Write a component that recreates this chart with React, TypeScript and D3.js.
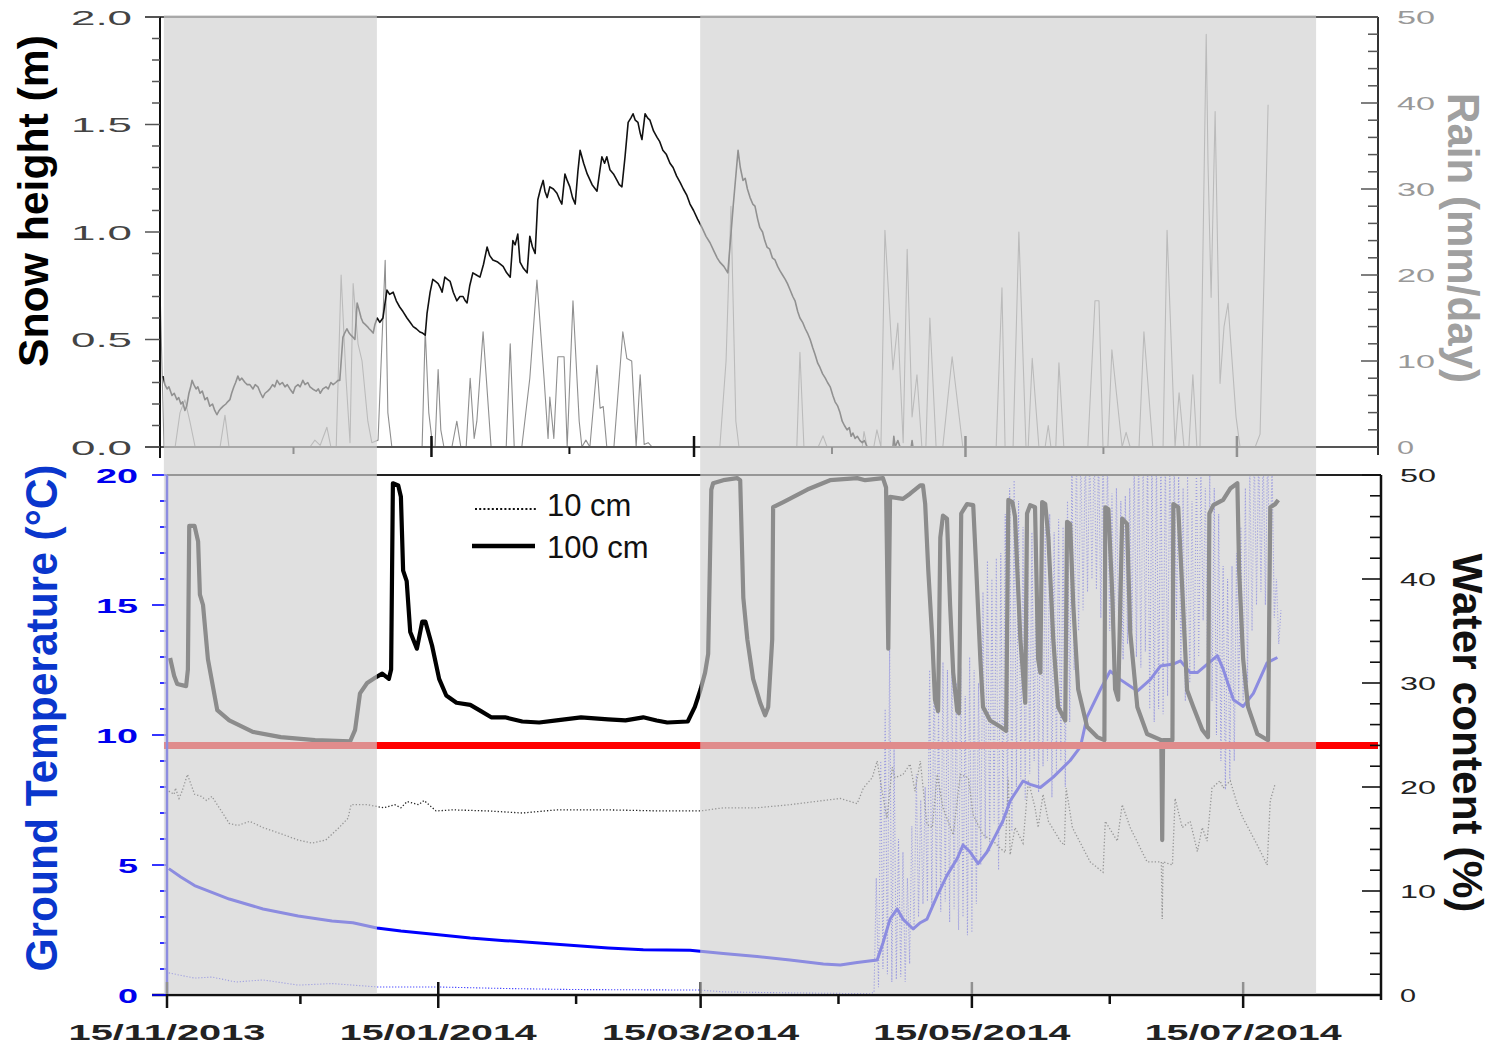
import React from "react";
import * as d3 from "d3";

type Pt = [number, number];

// Day 0 = 15/11/2013; every series is [days since start, value]
const START = new Date(2013, 10, 15);
const DAY_MS = 86400000;
const toDate = (d: number) => new Date(START.getTime() + d * DAY_MS);

// ---------- upper panel ----------
const snowHeight: Pt[] = [
  [0.7, 0.33], [1.1, 0.29], [1.6, 0.27], [2.0, 0.28], [2.7, 0.24], [3.2, 0.25], [3.8, 0.22], [4.2, 0.23],
  [4.7, 0.2], [5.1, 0.21], [5.6, 0.17], [6.0, 0.19], [6.5, 0.25], [6.9, 0.28], [7.2, 0.31], [7.6, 0.29],
  [8.1, 0.27], [8.5, 0.28], [9.0, 0.25], [9.5, 0.26], [10.1, 0.22], [10.6, 0.23], [11.2, 0.19], [11.8, 0.2],
  [12.3, 0.17], [12.8, 0.15], [13.3, 0.17], [13.7, 0.18], [14.2, 0.19], [14.8, 0.2], [15.2, 0.21], [15.7, 0.22],
  [16.1, 0.25], [16.6, 0.28], [17.0, 0.3], [17.5, 0.33], [17.9, 0.31], [18.4, 0.32], [19.1, 0.3], [19.6, 0.29],
  [20.2, 0.29], [20.9, 0.27], [21.4, 0.29], [22.0, 0.28], [22.6, 0.25], [23.1, 0.23], [23.6, 0.25], [24.2, 0.26],
  [24.7, 0.27], [25.3, 0.29], [25.8, 0.28], [26.3, 0.31], [26.9, 0.29], [27.5, 0.3], [28.1, 0.28], [28.6, 0.29],
  [29.2, 0.27], [29.9, 0.25], [30.4, 0.28], [31.0, 0.29], [31.5, 0.28], [32.1, 0.31], [32.6, 0.29], [33.2, 0.3],
  [33.7, 0.28], [34.3, 0.27], [35.1, 0.26], [35.6, 0.27], [36.0, 0.25], [36.6, 0.27], [37.3, 0.28], [37.8, 0.27],
  [38.4, 0.3], [38.9, 0.29], [39.5, 0.3], [40.0, 0.31], [40.4, 0.31], [41.1, 0.51], [41.5, 0.53], [42.0, 0.55],
  [42.5, 0.53], [42.9, 0.52], [43.4, 0.51], [43.8, 0.5], [44.3, 0.67], [44.7, 0.64], [45.2, 0.6], [45.6, 0.58],
  [46.1, 0.57], [46.6, 0.56], [47.0, 0.55], [47.5, 0.54], [47.9, 0.53], [48.3, 0.57], [48.8, 0.6], [49.4, 0.58],
  [50.1, 0.6], [50.5, 0.66], [51.0, 0.73], [51.6, 0.71], [52.4, 0.72], [53.1, 0.68], [53.9, 0.65], [54.6, 0.63],
  [55.5, 0.6], [56.2, 0.58], [56.9, 0.56], [57.6, 0.55], [58.4, 0.535], [59.0, 0.53], [59.6, 0.52], [60.0, 0.62],
  [60.7, 0.72], [61.3, 0.78], [61.9, 0.77], [62.5, 0.76], [63.0, 0.74], [63.4, 0.72], [64.0, 0.79], [64.6, 0.78],
  [65.2, 0.77], [65.9, 0.72], [66.7, 0.68], [67.4, 0.7], [68.1, 0.7], [68.6, 0.68], [69.0, 0.67], [69.6, 0.75],
  [70.3, 0.81], [71.1, 0.8], [71.9, 0.79], [72.7, 0.85], [73.5, 0.93], [74.1, 0.89], [74.8, 0.87], [75.9, 0.86],
  [77.1, 0.84], [77.9, 0.81], [78.7, 0.79], [79.3, 0.96], [79.8, 0.94], [80.4, 0.99], [80.9, 0.86], [81.7, 0.83],
  [82.5, 0.81], [83.1, 0.98], [83.7, 0.93], [84.3, 0.9], [84.9, 1.15], [85.5, 1.2], [86.1, 1.24], [86.5, 1.19],
  [87.0, 1.16], [87.6, 1.21], [88.4, 1.2], [89.2, 1.18], [89.8, 1.15], [90.3, 1.13], [91.0, 1.27], [91.5, 1.24],
  [92.1, 1.21], [92.7, 1.16], [93.3, 1.13], [93.9, 1.28], [94.4, 1.38], [95.2, 1.32], [96.0, 1.27], [97.1, 1.22],
  [98.2, 1.19], [98.8, 1.28], [99.3, 1.35], [99.9, 1.32], [100.4, 1.35], [101.1, 1.29], [101.9, 1.27], [102.7, 1.24],
  [103.2, 1.22], [103.8, 1.21], [104.5, 1.35], [105.2, 1.51], [105.8, 1.53], [106.3, 1.55], [106.8, 1.52],
  [107.4, 1.51], [107.9, 1.46], [108.3, 1.43], [109.0, 1.55], [109.6, 1.53], [110.1, 1.52], [110.9, 1.47],
  [111.7, 1.44], [112.3, 1.42], [113.0, 1.38], [113.8, 1.36], [114.6, 1.32], [115.3, 1.3], [116.1, 1.26],
  [116.9, 1.23], [117.6, 1.2], [118.4, 1.17], [119.1, 1.13], [119.9, 1.1], [120.8, 1.06], [121.8, 1.02],
  [122.7, 0.98], [123.6, 0.95], [124.5, 0.91], [125.2, 0.88], [125.8, 0.86], [126.7, 0.84], [127.6, 0.81],
  [128.8, 1.12], [129.9, 1.38], [130.4, 1.3], [131.0, 1.24], [131.5, 1.25], [132.0, 1.2], [132.6, 1.16],
  [133.2, 1.13], [133.7, 1.12], [134.3, 1.06], [134.8, 1.02], [135.4, 1.0], [135.9, 0.96], [136.4, 0.93],
  [137.0, 0.92], [137.6, 0.88], [138.2, 0.87], [138.8, 0.84], [139.3, 0.82], [139.9, 0.8], [140.5, 0.78],
  [141.0, 0.76], [141.6, 0.73], [142.2, 0.7], [142.7, 0.68], [143.3, 0.63], [143.8, 0.6], [144.4, 0.58],
  [145.0, 0.55], [145.5, 0.53], [146.1, 0.5], [146.7, 0.46], [147.2, 0.43], [147.8, 0.39], [148.3, 0.37],
  [148.9, 0.34], [149.5, 0.32], [150.0, 0.3], [150.6, 0.28], [151.2, 0.24], [151.7, 0.21], [152.3, 0.19],
  [152.8, 0.16], [153.3, 0.12], [153.8, 0.1], [154.4, 0.08], [154.9, 0.09], [155.3, 0.05], [155.7, 0.065],
  [156.2, 0.04], [156.7, 0.05], [157.3, 0.03], [157.8, 0.02], [158.3, 0.03], [158.9, 0], [164.7, 0], [164.9, 0.05],
  [165.2, 0], [165.8, 0.03], [166.3, 0], [168.8, 0], [169.0, 0.03], [169.2, 0], [185, 0],
];

const rainfall: Pt[] = [
  [0, 18.6], [0.9, 0], [3.4, 0], [4.5, 4], [5.6, 5.5], [6.7, 3], [7.9, 0], [13.5, 0], [14.6, 3.7], [15.5, 0],
  [33.7, 0], [34.8, 0.8], [36, 0.2], [37.5, 2.3], [38.4, 0], [39.6, 0], [40.7, 20], [41.8, 8], [42.7, 0.5],
  [43.4, 19], [44.5, 12], [45.4, 10], [46.7, 3], [47.6, 0.5], [49, 0.8], [50.6, 21.7], [51.2, 4], [52.1, 0],
  [58.9, 0], [59.6, 13.6], [60.4, 4], [61.3, 0], [61.8, 0], [62.5, 9], [63.1, 2], [63.8, 0], [65.6, 0], [66.7, 3],
  [67.6, 0], [68.8, 0], [69.7, 8], [70.6, 1], [71.2, 3], [72.6, 13.4], [74.4, 0], [77.8, 0], [78.7, 12], [79.6, 0],
  [81.3, 0], [83.1, 8], [84.7, 19.4], [86.3, 8], [87.2, 1], [87.6, 5.8], [88.5, 1], [89.4, 10.5], [90.8, 10.5],
  [91.5, 0], [92.8, 17], [94.2, 3], [94.8, 0], [95.7, 0.8], [96.6, 0], [98.2, 9.5], [98.9, 4.5], [99.6, 4.7],
  [100.4, 0], [102, 0], [104, 13.4], [104.9, 10.3], [106, 10], [107, 0], [107.9, 8.4], [108.8, 0.3], [109.7, 0.5],
  [110.6, 0], [125.8, 0], [127.2, 10], [128.3, 28], [129.4, 3], [130.1, 0], [143.1, 0], [143.8, 11], [144.7, 0],
  [147.9, 0], [149, 1.3], [149.9, 0], [157.8, 0], [158.2, 1.8], [158.9, 0], [160.4, 0], [161.1, 2], [162, 0],
  [162.9, 25.2], [164.7, 9], [165.8, 14.4], [167, 0.5], [167.9, 23], [169, 3.5], [170.1, 8.4], [171.2, 0],
  [172.1, 0], [173, 15], [174.4, 0], [175.9, 0], [178, 10.5], [180.4, 0], [187.9, 0], [189.2, 18.5], [189.9, 0],
  [191.7, 0], [193, 25], [194.6, 0], [195.1, 0], [196, 10.3], [197.5, 0], [198.9, 0], [199.6, 2.5], [200.2, 0],
  [201.3, 0], [202, 9.8], [203.1, 0], [208.5, 0], [210.1, 17], [211, 17], [211.9, 0], [213, 0], [213.9, 11.3],
  [216.2, 0], [217.1, 1.7], [218, 0], [220, 0], [221.1, 13.4], [223.1, 0], [225.4, 0], [226.3, 25.2], [228.1, 0],
  [229, 6.3], [230.1, 0], [231.2, 0], [232.1, 8.4], [233, 0], [233.7, 0], [235.1, 48], [235.5, 33], [236.2, 17.4],
  [237.1, 39], [238.2, 7.4], [239.1, 14], [240, 16.7], [241.8, 3.5], [242.7, 0], [246.1, 0], [247.2, 1.5],
  [248.1, 20], [249, 39.8],
];

// ---------- lower panel ----------
const waterContent100: Pt[] = [
  [0.7, 32.4], [1.6, 30.7], [2.3, 29.9], [4.3, 29.7], [4.7, 31.3], [5.0, 45.1], [6.2, 45.1], [7.0, 43.6],
  [7.4, 38.5], [8.1, 37.5], [9.2, 32.3], [11.3, 27.4], [14.0, 26.4], [19.3, 25.3], [25.6, 24.8], [33.3, 24.5],
  [41.2, 24.4], [42.3, 25.5], [43.4, 29], [45.0, 30], [46.8, 30.5], [48.4, 30.9], [49.9, 30.4], [50.4, 31.3],
  [50.8, 49.2], [52.0, 49], [52.6, 47.9], [53.1, 40.8], [53.9, 39.8], [54.7, 34.9], [56.2, 33.3], [57.4, 35.9],
  [58.1, 35.9], [59.6, 33.6], [61.2, 30.4], [62.8, 28.8], [65.1, 28.1], [68.2, 27.9], [70.6, 27.3], [72.9, 26.7],
  [76.0, 26.7], [79.9, 26.3], [83.7, 26.2], [87.6, 26.4], [93.1, 26.7], [99.2, 26.5], [103.1, 26.4], [107.1, 26.7],
  [110.1, 26.4], [112.5, 26.2], [117.1, 26.3], [118.7, 27.7], [120.0, 29.4], [121.0, 31], [121.7, 32.8],
  [122.4, 48.6], [122.8, 49.2], [125.1, 49.5], [128.2, 49.7], [128.9, 49.5], [129.6, 38.2], [130.5, 34.2],
  [131.8, 30.4], [133.4, 28.1], [134.5, 26.9], [135.2, 27.7], [136.1, 34.2], [136.3, 46.9], [138.6, 47.4],
  [144.0, 48.6], [149.1, 49.5], [155.2, 49.7], [157.0, 49.5], [161.0, 49.7], [161.7, 48.8], [162.2, 33.3],
  [162.6, 47.9], [165.5, 47.7], [167.1, 48.2], [169.4, 49], [170.0, 49], [170.5, 47.2], [171.2, 40.8],
  [172.1, 34.2], [172.7, 28.4], [173.4, 27.3], [173.9, 44], [174.5, 46.1], [175.4, 45.8], [176.1, 37.5],
  [176.8, 31], [177.7, 27.3], [178.1, 27.1], [178.6, 46.3], [179.9, 47.2], [181.3, 47.1], [182.0, 40.8],
  [182.9, 32.3], [183.5, 27.7], [185.1, 26.4], [187.4, 25.8], [188.7, 25.4], [189.2, 47.6], [190.1, 47.4],
  [190.7, 46], [191.9, 34.2], [193.0, 28.1], [193.4, 46.3], [194.1, 47.1], [195.2, 46.9], [195.9, 32.3],
  [196.4, 31], [196.8, 47.4], [197.5, 47.2], [198.2, 44], [199.3, 34.2], [200.4, 27.7], [202.0, 26.4],
  [202.4, 45.5], [203.1, 45.3], [203.8, 37.5], [204.9, 29.4], [206.9, 25.8], [209.2, 24.8], [210.8, 24.5],
  [211.0, 46.9], [211.7, 46.7], [212.6, 38.2], [213.2, 29.4], [213.9, 28.4], [214.8, 45.8], [215.9, 45.3],
  [216.6, 34.9], [218.2, 27.7], [220.4, 25.1], [223.6, 24.5], [223.8, 14.9], [224.0, 24.5], [226.1, 24.5],
  [226.3, 47.2], [227.4, 46.9], [228.3, 39.1], [229.4, 29.3], [230.8, 27.7], [232.8, 25.5], [234.1, 24.8],
  [234.4, 46.3], [235.3, 47.1], [237.5, 47.6], [239.1, 48.7], [240.7, 49.2], [241.1, 40.8], [242.0, 32.3],
  [243.1, 27.7], [245.2, 25.1], [247.6, 24.5], [248.1, 46.9], [249.2, 47.2], [249.9, 47.6],
];

const waterContent10: Pt[] = [
  [0.4, 19.6], [1.6, 19.3], [1.9, 19.9], [2.7, 18.9], [3.4, 19.6], [4.6, 21.2], [6.2, 19.3], [7.7, 19.1],
  [8.9, 18.7], [10.1, 19.1], [11.3, 18.3], [14.0, 16.5], [15.9, 16.3], [18.6, 16.7], [21.6, 16.1], [26.3, 15.4],
  [29.5, 14.9], [32.6, 14.6], [35.7, 14.9], [38.7, 16.1], [40.7, 17], [41.4, 18.3], [45.0, 18.3], [48.8, 18],
  [51.2, 18.3], [52.6, 18], [54.0, 18.6], [56.6, 18.3], [57.8, 18.7], [60.5, 17.7], [64.3, 17.8], [72.1, 17.7],
  [79.9, 17.5], [87.6, 17.8], [99.2, 17.8], [110.9, 17.7], [120.0, 17.7], [125.1, 18], [132.7, 18], [140.1, 18.3],
  [147.6, 18.7], [151.4, 18.9], [155.2, 18.4], [156.6, 19.9], [158.6, 20.9], [159.7, 22.5], [160.8, 19.6],
  [161.9, 17], [163.1, 21.9], [163.7, 20.9], [165.5, 21.2], [167.1, 22.2], [168.2, 19.6], [169.4, 22.5],
  [170.9, 16.4], [172.1, 16.1], [173.2, 21.2], [174.5, 18], [176.8, 15.4], [178.4, 21.2], [180.2, 20.9],
  [181.3, 17.3], [183.5, 15.4], [185.8, 14.8], [187.4, 14.1], [188.5, 13.7], [189.2, 20.9], [189.6, 13.5],
  [190.7, 16.1], [192.5, 14.6], [193.7, 20.6], [195.2, 18], [195.9, 16.1], [197.0, 19.3], [198.2, 16.7],
  [200.9, 14.8], [201.8, 14.4], [202.2, 19.9], [203.6, 16.1], [207.6, 12.8], [210.5, 11.8], [211.0, 16.7],
  [213.7, 14.8], [214.8, 18.3], [216.6, 16.1], [220.4, 12.8], [223.6, 12.8], [223.8, 7.3], [224.0, 12.8],
  [226.1, 12.5], [226.7, 18.9], [228.3, 16.1], [230.1, 16.7], [231.7, 13.8], [232.8, 16.1], [233.9, 14.8],
  [235.0, 19.9], [236.8, 20.6], [237.5, 19.9], [239.1, 20.6], [240.7, 18.3], [242.0, 17], [245.2, 14.4],
  [247.4, 12.5], [248.1, 18.7], [249.2, 20.3],
];

const groundTemp100: Pt[] = [
  [0.4, 4.86], [3.1, 4.54], [6.2, 4.21], [14.0, 3.69], [21.6, 3.31], [29.5, 3.04], [37.1, 2.85], [41.8, 2.78],
  [47.2, 2.58], [52.6, 2.46], [60.5, 2.33], [68.2, 2.19], [76.0, 2.09], [83.7, 2.0], [91.5, 1.9], [99.2, 1.81],
  [107.1, 1.74], [117.6, 1.72], [125.1, 1.6], [132.7, 1.48], [140.1, 1.35], [147.6, 1.19], [151.4, 1.15],
  [155.2, 1.25], [159.7, 1.35], [161.0, 2.0], [162.6, 2.92], [164.2, 3.31], [165.5, 2.92], [167.8, 2.54],
  [169.4, 2.78], [170.9, 2.92], [173.2, 3.82], [175.4, 4.6], [177.7, 5.25], [179.0, 5.77], [180.6, 5.5],
  [182.4, 5.05], [184.4, 5.5], [186.2, 6.1], [188.0, 6.7], [189.6, 7.46], [192.5, 8.23], [194.1, 8.1],
  [196.4, 7.98], [199.3, 8.38], [203.1, 9.02], [205.4, 9.54], [206.9, 10.7], [209.9, 11.75], [212.1, 12.46],
  [214.4, 12.13], [218.2, 11.69], [221.1, 12.13], [223.4, 12.65], [226.3, 12.73], [227.9, 12.85], [230.1, 12.4],
  [231.7, 12.4], [236.2, 13.05], [237.5, 12.54], [239.8, 11.36], [242.0, 11.1], [244.3, 11.6], [247.4, 12.78],
  [249.7, 12.98],
];

const groundTemp10Winter: Pt[] = [
  [0.4, 0.85], [6.2, 0.65], [10.1, 0.69], [15.5, 0.5], [21.6, 0.58], [29.5, 0.38], [37.1, 0.44], [41.8, 0.38],
  [47.2, 0.31], [60.5, 0.31], [76.0, 0.25], [91.5, 0.21], [119.9, 0.19], [125.1, 0.12], [140.1, 0.08], [158.1, 0.05],
];

// daily extremes of the 10 cm temperature once the snow has gone (from day 159)
const groundTemp10FirstDay = 159;
const groundTemp10DailyMin = [
  0.1, 0.3, 1.0, 0.8, 0.5, 0.6, 0.7, 0.5, 1.2, 2.5, 3.0, 3.5, 3.6, 3.3, 3.8, 3.2, 3.6, 2.8, 3.3, 2.5,
  3.0, 2.3, 2.4, 3.5, 5.0, 6.0, 5.5, 6.6, 4.8, 6.5, 7.0, 6.3, 8.0, 8.3, 7.5, 8.5, 9.0, 7.8, 8.8, 9.0,
  7.6, 8.6, 9.0, 8.0, 10.5, 12.5, 14.0, 14.8, 15.5, 16.0, 15.6, 14.5, 15.0, 14.0, 13.5, 14.2, 12.9, 13.5, 14.0, 13.0,
  12.6, 13.2, 11.0, 10.5, 11.0, 10.8, 11.5, 13.5, 14.4, 12.8, 11.3, 12.0, 12.4, 13.0, 14.4, 12.4, 11.3, 10.0, 9.0, 7.9,
  8.3, 9.0, 11.3, 11.3, 12.0, 14.0, 15.0, 15.5, 15.0, 16.0, 14.5, 13.5,
];
const groundTemp10DailyMax = [
  4.5, 9.0, 11.0, 13.3, 9.5, 6.0, 5.5, 4.5, 6.5, 8.5, 7.5, 8.0, 12.5, 13.0, 11.0, 12.8, 12.5, 12.9, 12.0, 12.6,
  11.5, 13.0, 12.5, 12.0, 15.5, 16.7, 16.0, 16.8, 17.0, 18.5, 19.5, 19.8, 19.0, 18.0, 18.5, 17.8, 18.2, 17.5, 18.0, 18.5,
  17.8, 18.3, 18.0, 19.0, 20.5, 21, 21, 21, 21, 21, 21, 21, 20.5, 19.3, 19.5, 19.0, 19.2, 19.5, 20.5, 21,
  21, 21, 21, 21, 21, 21, 21, 20.5, 20.0, 19.5, 20.0, 19.0, 20.5, 20.0, 19.5, 20.0, 19.5, 18.5, 16.5, 16.0,
  16.5, 17.0, 18.0, 19.5, 20.5, 21, 21, 21, 21, 20.5, 16.0, 14.8,
];

const waterThreshold = 24;

// grey periods drawn across both panels
const shadedPeriods: Pt[] = [[-0.7, 47.2], [119.9, 258.4]];

const majorTickDates = [new Date(2013, 10, 15), new Date(2014, 0, 15), new Date(2014, 2, 15), new Date(2014, 4, 15), new Date(2014, 6, 15)];
const minorTickDates = [new Date(2013, 11, 15), new Date(2014, 1, 15), new Date(2014, 3, 15), new Date(2014, 5, 15)];

const snowTicks = d3.range(0, 21).map((i) => i / 10);
const rainTicks = d3.range(0, 26).map((i) => i * 2);
const tempTicks = d3.range(0, 21);
const waterTicks = d3.range(0, 26).map((i) => i * 2);

const FONT = "'Liberation Sans', Arial, sans-serif";

export default function App() {
  const xTop = d3.scaleTime().domain([START, toDate(273.7)]).range([160, 1378]);
  const xBot = d3.scaleTime().domain([START, toDate(273)]).range([167, 1381]);
  const ySnow = d3.scaleLinear().domain([0, 2]).range([447, 17]);
  const yRain = d3.scaleLinear().domain([0, 50]).range([447, 17]);
  const yTemp = d3.scaleLinear().domain([0, 20]).range([995, 475]);
  const yWater = d3.scaleLinear().domain([0, 50]).range([995, 475]);

  const topLine = (y: d3.ScaleLinear<number, number>) =>
    d3.line<Pt>().x((p) => xTop(toDate(p[0]))).y((p) => y(p[1]));
  const botLine = (y: d3.ScaleLinear<number, number>) =>
    d3.line<Pt>().x((p) => xBot(toDate(p[0]))).y((p) => y(p[1]));

  const groundTemp10: Pt[] = [...groundTemp10Winter];
  groundTemp10DailyMin.forEach((mn, i) => {
    const day = groundTemp10FirstDay + i;
    groundTemp10.push([day, mn]);
    groundTemp10.push([day + 0.5, groundTemp10DailyMax[i]]);
  });

  const fmt = d3.timeFormat("%d/%m/%Y");

  const stretched = (
    label: string, x: number, y: number, width: number, anchor: "start" | "end" | "middle",
    size: number, fill: string, weight: string | number = "normal"
  ) => {
    const x0 = anchor === "start" ? x : anchor === "end" ? x - width : x - width / 2;
    return (
      <text key={label + x + y} x={x0} y={y} fontSize={size} fill={fill} fontWeight={weight}
        fontFamily={FONT} textLength={width} lengthAdjust="spacingAndGlyphs">{label}</text>
    );
  };

  const rotatedTitle = (label: string, x: number, y: number, angle: number, len: number, size: number, fill: string) => (
    <g transform={`translate(${x},${y}) rotate(${angle})`}>
      <text x={-len / 2} y={0} fontSize={size} fontWeight="bold" fill={fill} fontFamily={FONT}
        textLength={len} lengthAdjust="spacingAndGlyphs">{label}</text>
    </g>
  );

  return (
    <svg width={1493} height={1046} style={{ position: "absolute", left: 0, top: 0, background: "#fff" }}>
      <defs>
        <clipPath id="clipTop"><rect x={160} y={16} width={1218} height={432} /></clipPath>
        <clipPath id="clipBot"><rect x={167} y={474} width={1214} height={522} /></clipPath>
      </defs>
      <rect x={0} y={0} width={1493} height={1046} fill="#fff" />

      {/* upper panel: rain and snow height */}
      <g clipPath="url(#clipTop)">
        <path d={topLine(yRain)(rainfall) || ""} fill="none" stroke="#8f8f8f" strokeWidth={1.1} strokeLinejoin="round" />
        <path d={topLine(ySnow)(snowHeight) || ""} fill="none" stroke="#111" strokeWidth={1.6} strokeLinejoin="round" />
      </g>

      {/* upper panel frame and ticks */}
      <g>
        <line x1={145} x2={1378} y1={17} y2={17} stroke="#555" strokeWidth={2} />
        <line x1={145} x2={1378} y1={447} y2={447} stroke="#555" strokeWidth={2} />
        <line x1={160} x2={160} y1={17} y2={458} stroke="#111" strokeWidth={2} />
        <line x1={1378} x2={1378} y1={17} y2={455} stroke="#333" strokeWidth={2} />
        {snowTicks.map((v, i) => (
          <line key={"st" + i} x1={i % 5 === 0 ? 145 : 152} x2={160} y1={ySnow(v)} y2={ySnow(v)} stroke="#555" strokeWidth={1.5} />
        ))}
        {rainTicks.map((v, i) => (
          <line key={"rt" + i} x1={i % 5 === 0 ? 1361 : 1368} x2={1378} y1={yRain(v)} y2={yRain(v)} stroke="#555" strokeWidth={1.5} />
        ))}
        {majorTickDates.slice(1).map((d, i) => (
          <line key={"tmj" + i} x1={xTop(d)} x2={xTop(d)} y1={436} y2={457} stroke="#111" strokeWidth={2.5} />
        ))}
        {minorTickDates.map((d, i) => (
          <line key={"tmn" + i} x1={xTop(d)} x2={xTop(d)} y1={447} y2={454} stroke="#111" strokeWidth={2} />
        ))}
      </g>

      {/* lower panel: soil temperature and water content */}
      <g clipPath="url(#clipBot)">
        <path d={botLine(yTemp)(groundTemp10) || ""} fill="none" stroke="#3a3aff" strokeWidth={1.1} strokeDasharray="1.2 1.8" />
        <path d={botLine(yWater)(waterContent10) || ""} fill="none" stroke="#222" strokeWidth={1.3} strokeDasharray="1.3 2" />
        <path d={botLine(yTemp)(groundTemp100) || ""} fill="none" stroke="#0000ff" strokeWidth={3} strokeLinejoin="round" />
        <path d={botLine(yWater)(waterContent100) || ""} fill="none" stroke="#000" strokeWidth={4.2} strokeLinejoin="round" />
      </g>
      <line x1={xBot(START) - 3} x2={1378} y1={yWater(waterThreshold)} y2={yWater(waterThreshold)} stroke="#ff0000" strokeWidth={7} />

      {/* lower panel frame and ticks */}
      <g>
        <line x1={167} x2={1381} y1={475} y2={475} stroke="#222" strokeWidth={2} />
        <line x1={152} x2={1381} y1={995} y2={995} stroke="#111" strokeWidth={2.5} />
        <line x1={167} x2={167} y1={475} y2={996} stroke="#0000ff" strokeWidth={2.5} />
        <line x1={1381} x2={1381} y1={475} y2={1000} stroke="#111" strokeWidth={2.5} />
        {tempTicks.map((v, i) => (
          <line key={"tt" + i} x1={i % 5 === 0 ? 152 : 160} x2={167} y1={yTemp(v)} y2={yTemp(v)} stroke="#0000ff" strokeWidth={1.6} />
        ))}
        {waterTicks.map((v, i) => (
          <line key={"wt" + i} x1={i % 5 === 0 ? 1362 : 1370} x2={1381} y1={yWater(v)} y2={yWater(v)} stroke="#111" strokeWidth={1.6} />
        ))}
        {majorTickDates.map((d, i) => (
          <line key={"bmj" + i} x1={xBot(d)} x2={xBot(d)} y1={982} y2={1008} stroke="#111" strokeWidth={2.5} />
        ))}
        {minorTickDates.map((d, i) => (
          <line key={"bmn" + i} x1={xBot(d)} x2={xBot(d)} y1={995} y2={1004} stroke="#111" strokeWidth={2.5} />
        ))}
      </g>

      {/* shaded periods */}
      {shadedPeriods.map(([a, b], i) => (
        <rect key={"sp" + i} x={xBot(toDate(a))} y={15} width={xBot(toDate(b)) - xBot(toDate(a))} height={979}
          fill="rgb(209,209,209)" fillOpacity={0.67} />
      ))}

      {/* legend */}
      <line x1={475} x2={537} y1={509} y2={509} stroke="#111" strokeWidth={2} strokeDasharray="2 2.2" />
      <text x={547} y={516} fontSize={31} fontFamily={FONT} fill="#111">10 cm</text>
      <line x1={472} x2={535} y1={546} y2={546} stroke="#000" strokeWidth={4.5} />
      <text x={547} y={558} fontSize={31} fontFamily={FONT} fill="#111">100 cm</text>

      {/* tick labels */}
      {[0, 0.5, 1, 1.5, 2].map((v) => stretched(v.toFixed(1), 132, ySnow(v) + 7.5, 61, "end", 21, "#444"))}
      {[0, 10, 20, 30, 40, 50].map((v) =>
        stretched(String(v), 1397, yRain(v) + 7, String(v).length === 1 ? 17 : 38, "start", 19, "#999"))}
      {[0, 5, 10, 15, 20].map((v) =>
        stretched(String(v), 138, yTemp(v) + 7.5, String(v).length === 1 ? 20 : 42, "end", 20, "#0000ee", "bold"))}
      {[0, 10, 20, 30, 40, 50].map((v) =>
        stretched(String(v), 1400, yWater(v) + 7, String(v).length === 1 ? 16 : 36, "start", 19, "#222"))}
      {majorTickDates.map((d) => stretched(fmt(d), xBot(d), 1040, 197, "middle", 22, "#222", "bold"))}

      {/* axis titles */}
      {rotatedTitle("Snow height (m)", 48, 201, -90, 332, 43, "#000")}
      {rotatedTitle("Ground Temperature (°C)", 57, 718, -90, 507, 45, "#0a36cc")}
      {rotatedTitle("Rain (mm/day)", 1448, 238, 90, 290, 44, "#a0a0a0")}
      {rotatedTitle("Water content (%)", 1453, 733, 90, 359, 42, "#111")}
    </svg>
  );
}
